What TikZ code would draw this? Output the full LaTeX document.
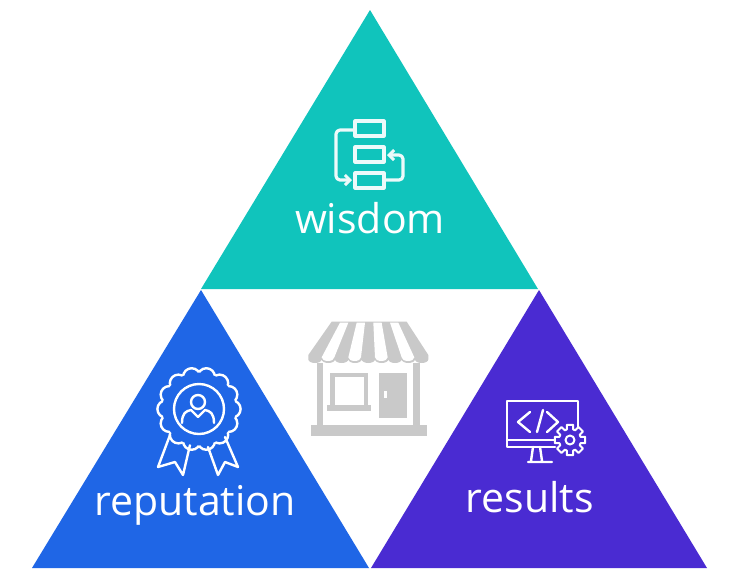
\documentclass[tikz,border=0pt]{standalone}
\usepackage{fontspec}
\setmainfont{Open Sans}
\usetikzlibrary{arrows.meta}
\definecolor{tealc}{HTML}{10C4BC}
\definecolor{bluec}{HTML}{1F66E6}
\definecolor{purplec}{HTML}{4A2BD2}
\definecolor{greyc}{HTML}{C9C9C9}
\tikzset{
  tri/.style={draw=none},
  label text/.style={text=white,font=\fontsize{41}{46}\selectfont,inner sep=0pt,anchor=base},
  icon/.style={draw=white,line width=2.4pt,line join=round,line cap=round},
  iconthick/.style={draw=white!92!tealc,line width=3.2pt,line join=round},
  arrowed/.style={-{Straight Barb[length=5pt,width=10pt,line width=3pt]}},
  store/.style={fill=greyc,draw=none}
}
\begin{document}
\begin{tikzpicture}[x=1pt,y=-1pt]
\useasboundingbox (0,0) rectangle (731,587);
\fill[white] (0,0) rectangle (731,587);
% triangles
\fill[tealc,tri] (370,10) -- (538,289) -- (201,289) -- cycle;
\fill[bluec,tri] (201,290) -- (369,568) -- (32,568) -- cycle;
\fill[purplec,tri] (539,290) -- (707,568) -- (371,568) -- cycle;
% labels
\node[label text] (wisdom) at (370,233) {wisdom};
\node[label text] (reputation) at (195,515) {reputation};
\node[label text] (results) at (530,512) {results};
% wisdom icon
\draw[iconthick] (355,121) rectangle (384,136);
\draw[iconthick] (355,147) rectangle (384,162);
\draw[iconthick] (355,173) rectangle (384,188);
\draw[iconthick,arrowed,rounded corners=4pt] (355,130) -- (336,130) -- (336,180) -- (352,180);
\draw[iconthick,arrowed,rounded corners=4pt] (384,180) -- (403,180) -- (403,155) -- (387,155);
% store
\begin{scope}[shift={(290,310)},x=0.3333pt,y=-0.3333pt]
  \fill[greyc] (125,35) -- (350,35) -- (415,135) -- (415,148)
    arc[start angle=0,end angle=180,x radius=20,y radius=11] 
    arc[start angle=0,end angle=180,x radius=20,y radius=11]
    arc[start angle=0,end angle=180,x radius=20,y radius=11]
    arc[start angle=0,end angle=180,x radius=20,y radius=11]
    arc[start angle=0,end angle=180,x radius=20,y radius=11]
    arc[start angle=0,end angle=180,x radius=20,y radius=11]
    arc[start angle=0,end angle=180,x radius=20,y radius=11]
    arc[start angle=0,end angle=180,x radius=20,y radius=11]
    arc[start angle=0,end angle=180,x radius=20,y radius=11]
    -- (55,135) -- cycle;
  \foreach \t/\b in {150/95,200/175,250/255,300/335}{
    \fill[white] (\t,38) -- (\t+25,38) -- (\b+38,142) arc[start angle=0,end angle=180,x radius=19,y radius=11] -- cycle;
  }
  \fill[store] (80,160) rectangle (100,350);
  \fill[store] (370,160) rectangle (390,350);
  \fill[store] (120,188) rectangle (235,300);
  \fill[white] (134,202) rectangle (222,285);
  \fill[store] (112,285) rectangle (243,302);
  \fill[store] (266,188) rectangle (352,325);
  \fill[white] (282,243) rectangle (290,265);
  \fill[store] (62,345) rectangle (410,378);
\end{scope}
% reputation icon: ribbons
\draw[icon] (170,435) -- (158,467) -- (175,462) -- (183,475) -- (190,445);
\draw[icon] (208,447) -- (218,475) -- (225,462) -- (238,467) -- (225,437);
% rosette
\foreach \a in {0,25.714,...,340}{
  \draw[icon] (199,409) ++(\a:33) circle[radius=8.6];
}
\fill[bluec] (199,409) circle[radius=36.5];
\draw[icon] (199,409) circle[radius=25];
\draw[icon] (198,402) circle[radius=7];
\draw[icon] (182,423) .. controls (182,413) and (186,411) .. (191,410) -- (198,417) -- (205,410) .. controls (210,411) and (214,413) .. (214,423);
% results icon
\draw[icon] (578,427) -- (578,401) -- (507,401) -- (507,447) -- (555,447);
\draw[icon] (507,440) -- (555,440);
\draw[icon] (540,447) -- (542,461) (528,462) -- (552,462) (533,447) -- (531,461);
\draw[icon] (530,412) -- (518,422) -- (530,432);
\draw[icon] (537,432) -- (543,410);
\draw[icon] (547,412) -- (558,422) -- (547,432);
\begin{scope}[shift={(570,440)}]
  \fill[purplec] (0,0) circle[radius=14];
  \draw[icon,line width=2pt] (-11.5:15.5)
    \foreach \a in {0,45,...,315}{
      -- (\a-11.5:15.5) -- (\a+11.5:15.5) -- (\a+17:11) -- (\a+28:11)
    } -- cycle;
  \draw[icon,line width=2pt] (0,0) circle[radius=4.5];
\end{scope}
\end{tikzpicture}
\end{document}
